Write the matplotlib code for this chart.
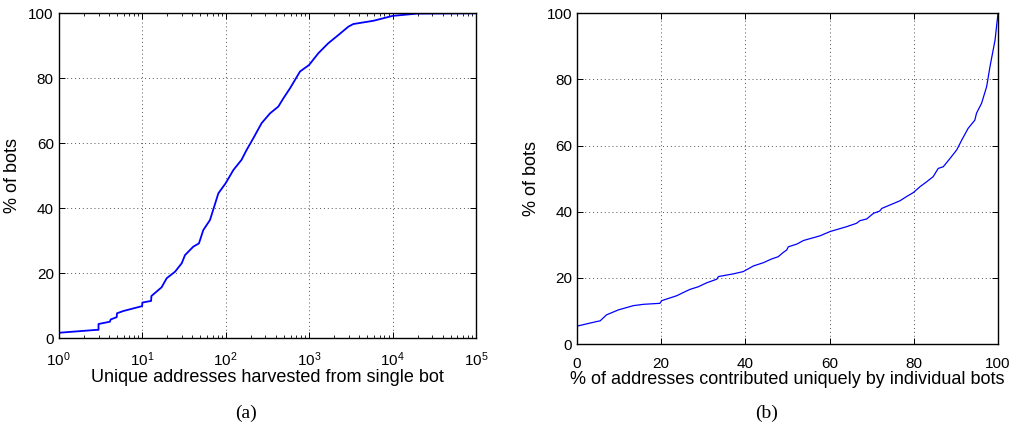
import numpy as np
import matplotlib
matplotlib.use("Agg")
import matplotlib.pyplot as plt
from matplotlib.ticker import LogLocator, NullFormatter

# (a) CDF of unique addresses harvested per bot
addr_a = [1, 2.85, 3.0, 3.0, 4.1, 4.2, 4.95, 5.0, 5.96, 7.85, 10, 10.05, 12.8, 12.9,
          17.1, 19.7, 24.8, 29.8, 32.6, 41, 47.9, 54, 65, 81.8, 100, 124, 155, 178,
          214, 270, 340, 428, 491, 590, 779, 1000, 1290, 1700, 2240, 2960, 3390,
          5900, 10000, 19600, 100000]
pct_a = [1.7, 2.6, 2.6, 4.4, 5.1, 5.8, 6.5, 7.7, 8.4, 9.2, 9.9, 11.0, 11.5, 13.0,
         15.7, 18.5, 20.5, 23.1, 25.6, 28.2, 29.2, 33.3, 36.4, 44.6, 47.7, 51.8, 54.9,
         57.9, 61.5, 66.2, 69.2, 71.3, 73.8, 76.9, 82.1, 84.1, 87.7, 90.8, 93.3, 95.9,
         96.7, 97.7, 99.2, 99.9, 100.0]

# (b) share of addresses contributed uniquely by individual bots
uniq_b = [0, 0, 4.7, 5.5, 7.0, 9.8, 13.4, 15.8, 19.7, 20.1, 23.7, 25.3, 26.8, 28.8,
          30.8, 33.2, 33.6, 37.1, 39.5, 41.9, 44.3, 46.2, 47.8, 49.0, 49.8, 50.2,
          52.2, 53.8, 57.7, 60.1, 64.1, 66.4, 67.2, 68.8, 70.4, 71.9, 72.4, 76.7,
          78.3, 79.9, 81.5, 83.1, 84.6, 85.8, 87.0, 88.6, 90.2, 91.4, 92.9, 94.5,
          94.9, 96.1, 97.3, 98.1, 99.3, 100]
pct_b = [0, 5.4, 6.8, 7.0, 8.8, 10.3, 11.6, 12.0, 12.3, 13.1, 14.6, 15.6, 16.5, 17.3,
         18.5, 19.6, 20.4, 21.2, 21.9, 23.6, 24.6, 25.7, 26.4, 27.7, 28.4, 29.4,
         30.2, 31.3, 32.7, 34.0, 35.5, 36.5, 37.3, 37.8, 39.5, 40.2, 41.0, 43.3,
         44.6, 45.8, 47.6, 49.1, 50.6, 53.1, 53.6, 56.1, 58.7, 61.7, 65.2, 67.7,
         69.8, 72.8, 77.8, 83.9, 91.9, 100]

plt.rcParams["font.family"] = ["Liberation Sans", "DejaVu Sans"]
plt.rcParams["mathtext.fontset"] = "custom"
plt.rcParams["mathtext.rm"] = "Liberation Sans"
plt.rcParams["mathtext.it"] = "Liberation Sans:italic"
plt.rcParams["mathtext.bf"] = "Liberation Sans:bold"

W, H = 1010, 423
fig = plt.figure(figsize=(W / 100, H / 100), dpi=100)
ax1 = fig.add_axes([58.7 / W, 1 - 338.3 / H, 417.3 / W, 325 / H])
ax2 = fig.add_axes([577 / W, 1 - 344 / H, 421 / W, 330.7 / H])


def style(ax):
    ax.grid(True, linestyle=(0, (1, 3)), color="#555555", linewidth=0.7)
    ax.tick_params(direction="in", top=True, right=True, labelsize=11,
                   length=4, width=0.7)
    ax.tick_params(axis="x", pad=9)
    ax.tick_params(which="minor", direction="in", top=True, right=True,
                   length=2.5, width=0.6)
    for s in ax.spines.values():
        s.set_linewidth(1.0)
    ax.set_ylim(0, 100)
    ax.set_yticks([0, 20, 40, 60, 80, 100])
    ax.set_ylabel("% of bots", fontsize=13, labelpad=5)


ax1.plot(addr_a, pct_a, color="#0000ff", linewidth=1.3)
ax1.set_xscale("log")
ax1.set_xlim(1, 1e5)
ax1.xaxis.set_major_locator(LogLocator(base=10, numticks=10))
ax1.xaxis.set_minor_locator(LogLocator(base=10, subs=np.arange(2, 10), numticks=20))
ax1.xaxis.set_minor_formatter(NullFormatter())
style(ax1)
ax1.set_xlabel("Unique addresses harvested from single bot", fontsize=13, labelpad=0)

ax2.plot(uniq_b, pct_b, color="#0000ff", linewidth=0.9)
ax2.set_xlim(0, 100)
ax2.set_xticks([0, 20, 40, 60, 80, 100])
style(ax2)
ax2.set_xlabel("% of addresses contributed uniquely by individual bots",
               fontsize=13, labelpad=0)

fig.text(246 / W, 1 - 413 / H, "(a)", ha="center", va="center", fontsize=14,
         family=["Liberation Serif", "DejaVu Serif"])
fig.text(767 / W, 1 - 413 / H, "(b)", ha="center", va="center", fontsize=14,
         family=["Liberation Serif", "DejaVu Serif"])

fig.savefig("out.png", dpi=100)
